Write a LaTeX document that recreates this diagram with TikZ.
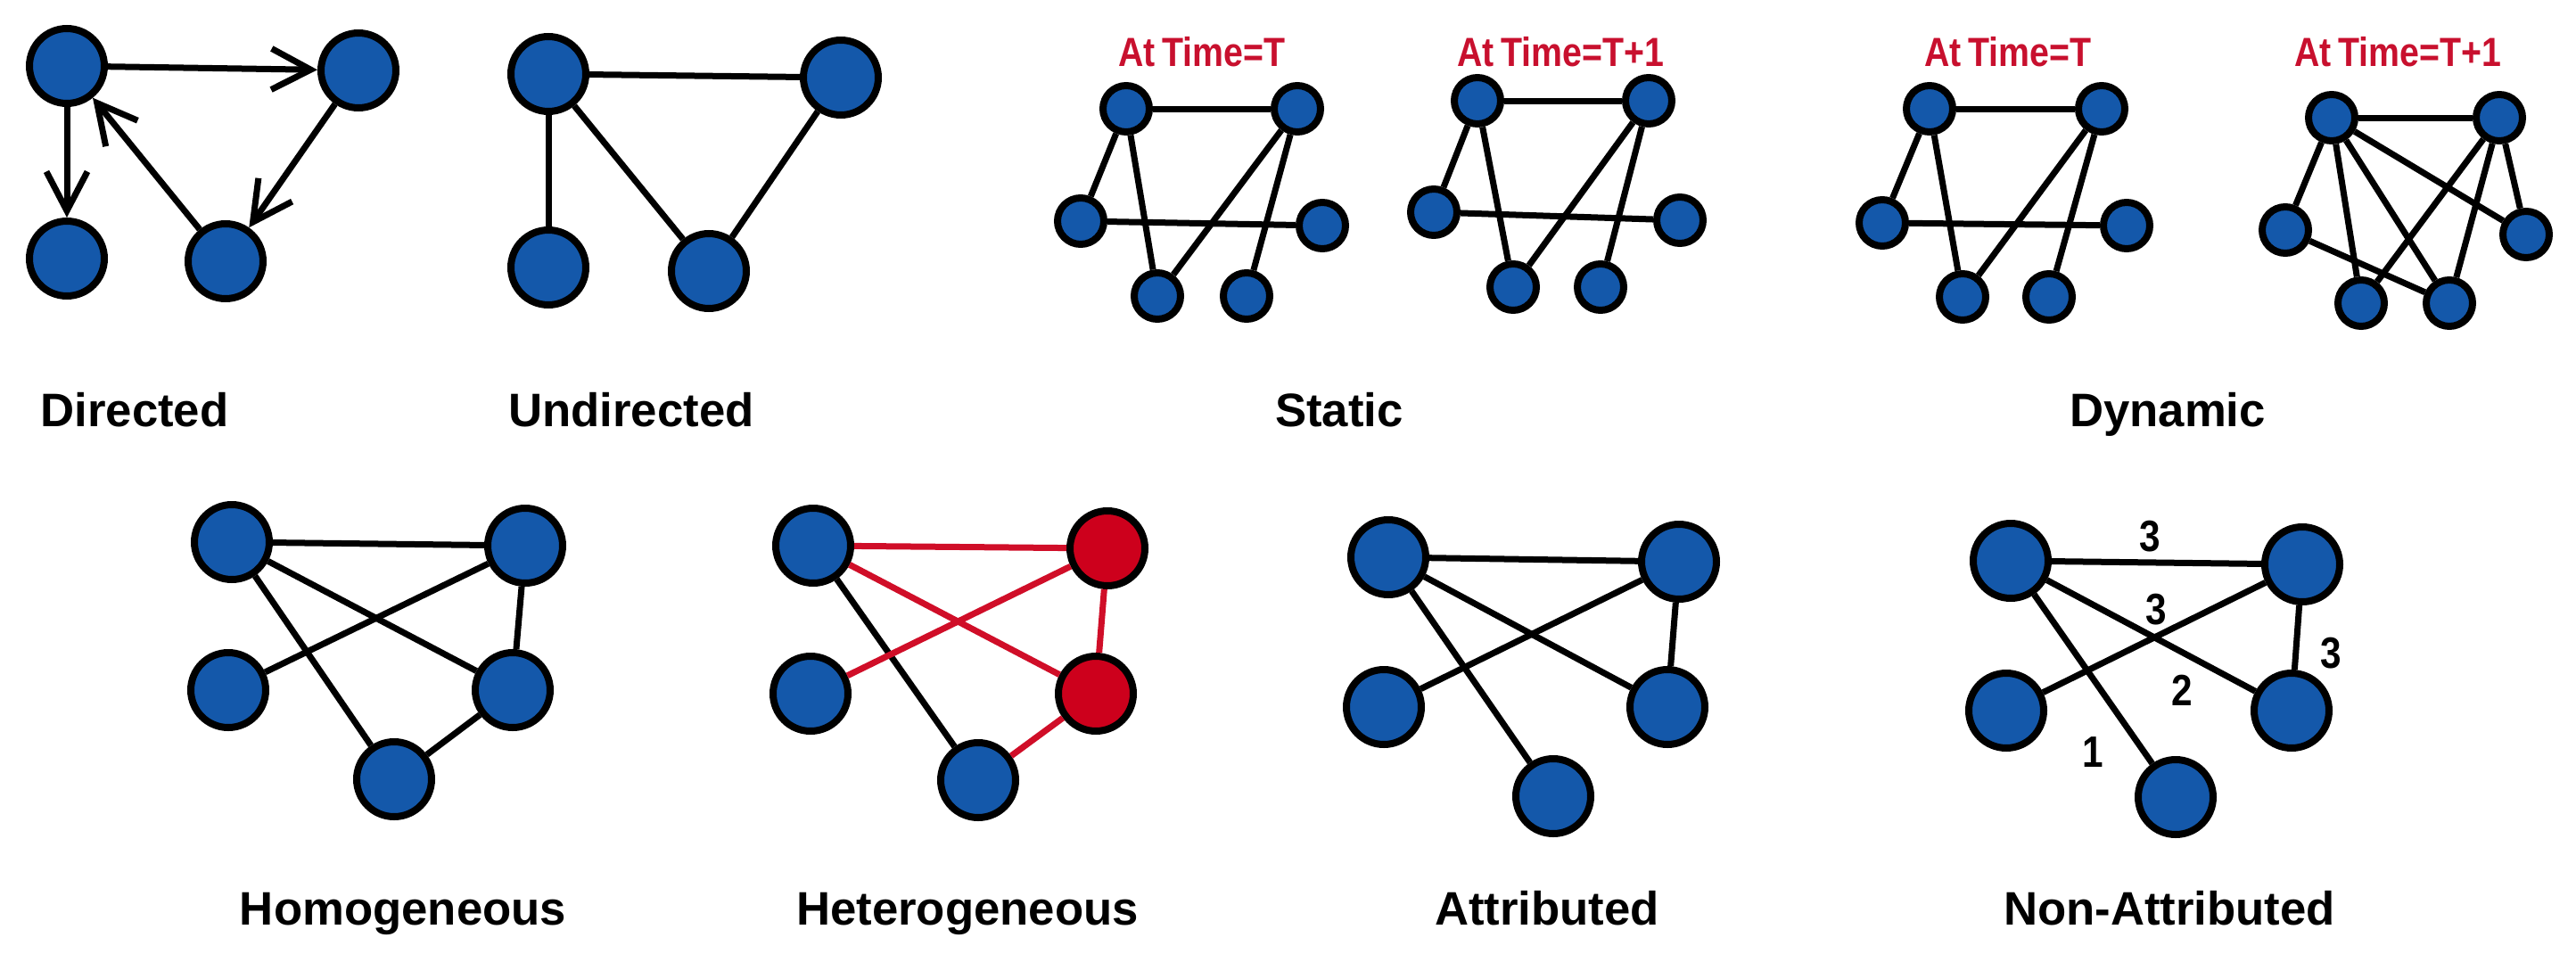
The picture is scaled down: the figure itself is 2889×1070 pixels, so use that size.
\documentclass[tikz,border=0pt]{standalone}
\usepackage{fontspec}
\setmainfont{Liberation Sans}
\newfontfamily\narrowsans[FakeStretch=0.86]{Liberation Sans}
\usepackage{xcolor}
\usetikzlibrary{arrows.meta}
\definecolor{nodeblue}{RGB}{20,88,170}
\definecolor{nodered}{RGB}{205,0,28}
\definecolor{linkred}{RGB}{208,14,40}
\definecolor{timered}{RGB}{200,16,46}
\def\bignode{8.4mm}
\def\smallnode{5.2mm}

\begin{document}
\begin{tikzpicture}[x=0.1mm, y=-0.1mm,
		vtx/.style={circle, draw=black, line width=0.8mm, fill=nodeblue, minimum size=\bignode, inner sep=0pt},
		svtx/.style={vtx, minimum size=\smallnode},
		rvtx/.style={vtx, fill=nodered},
		link/.style={line width=0.7mm},
		rlink/.style={link, draw=linkred},
		arr/.style={link, -{Straight Barb[length=4.4mm, width=4.6mm]}},
		title/.style={anchor=base, font=\fontsize{15}{18}\selectfont\bfseries},
		timelabel/.style={anchor=base, text=timered, font=\narrowsans\fontsize{13}{15}\selectfont\bfseries},
		weight/.style={font=\narrowsans\fontsize{14}{16}\selectfont\bfseries}]
	\useasboundingbox (0,0) rectangle (2889,1070);

	% directed
	\node[vtx] (d1) at (75,74) {};
	\node[vtx] (d2) at (402,79) {};
	\node[vtx] (d3) at (75,290) {};
	\node[vtx] (d4) at (253,293) {};
	\draw[arr] (d1) -- (d2);
	\draw[arr] (d1) -- (d3);
	\draw[arr] (d4) -- (d1);
	\draw[arr] (d2) -- (d4);
	\node[title] (dirlbl) at (151,478) {Directed};

	% undirected
	\node[vtx] (u1) at (615,83) {};
	\node[vtx] (u2) at (943,87) {};
	\node[vtx] (u3) at (615,300) {};
	\node[vtx] (u4) at (795,304) {};
	\draw[link] (u1) -- (u2);
	\draw[link] (u1) -- (u3);
	\draw[link] (u1) -- (u4);
	\draw[link] (u2) -- (u4);
	\node[title] (undirlbl) at (708,478) {Undirected};

	% static
	\node[timelabel] (sta) at (1348,75) {At\,Time=T};
	\node[svtx] (sa1) at (1263,122) {};
	\node[svtx] (sa2) at (1455,122) {};
	\node[svtx] (sa3) at (1212,248) {};
	\node[svtx] (sa4) at (1483,253) {};
	\node[svtx] (sa5) at (1298,332) {};
	\node[svtx] (sa6) at (1398,332) {};
	\draw[link] (sa1) -- (sa2);
	\draw[link] (sa1) -- (sa3);
	\draw[link] (sa1) -- (sa5);
	\draw[link] (sa2) -- (sa5);
	\draw[link] (sa2) -- (sa6);
	\draw[link] (sa3) -- (sa4);

	\node[timelabel] (stb) at (1750,75) {At\,Time=T+1};
	\node[svtx] (sb1) at (1657,113) {};
	\node[svtx] (sb2) at (1849,113) {};
	\node[svtx] (sb3) at (1608,238) {};
	\node[svtx] (sb4) at (1884,247) {};
	\node[svtx] (sb5) at (1697,322) {};
	\node[svtx] (sb6) at (1795,322) {};
	\draw[link] (sb1) -- (sb2);
	\draw[link] (sb1) -- (sb3);
	\draw[link] (sb1) -- (sb5);
	\draw[link] (sb2) -- (sb5);
	\draw[link] (sb2) -- (sb6);
	\draw[link] (sb3) -- (sb4);
	\node[title] (statlbl) at (1502,478) {Static};

	% dynamic
	\node[timelabel] (dta) at (2252,75) {At\,Time=T};
	\node[svtx] (da1) at (2164,122) {};
	\node[svtx] (da2) at (2357,122) {};
	\node[svtx] (da3) at (2111,250) {};
	\node[svtx] (da4) at (2385,253) {};
	\node[svtx] (da5) at (2201,333) {};
	\node[svtx] (da6) at (2298,333) {};
	\draw[link] (da1) -- (da2);
	\draw[link] (da1) -- (da3);
	\draw[link] (da1) -- (da5);
	\draw[link] (da2) -- (da5);
	\draw[link] (da2) -- (da6);
	\draw[link] (da3) -- (da4);

	\node[timelabel] (dtb) at (2689,75) {At\,Time=T+1};
	\node[svtx] (db1) at (2615,132) {};
	\node[svtx] (db2) at (2803,132) {};
	\node[svtx] (db3) at (2563,258) {};
	\node[svtx] (db4) at (2833,263) {};
	\node[svtx] (db5) at (2648,340) {};
	\node[svtx] (db6) at (2747,340) {};
	\draw[link] (db1) -- (db2);
	\draw[link] (db1) -- (db3);
	\draw[link] (db1) -- (db5);
	\draw[link] (db1) -- (db6);
	\draw[link] (db1) -- (db4);
	\draw[link] (db2) -- (db5);
	\draw[link] (db2) -- (db6);
	\draw[link] (db2) -- (db4);
	\draw[link] (db3) -- (db6);
	\node[title] (dynlbl) at (2431,478) {Dynamic};

	% homogeneous
	\node[vtx] (ho1) at (260,608) {};
	\node[vtx] (ho2) at (589,612) {};
	\node[vtx] (ho3) at (256,774) {};
	\node[vtx] (ho4) at (575,774) {};
	\node[vtx] (ho5) at (442,874) {};
	\draw[link] (ho1) -- (ho2);
	\draw[link] (ho1) -- (ho4);
	\draw[link] (ho1) -- (ho5);
	\draw[link] (ho2) -- (ho3);
	\draw[link] (ho2) -- (ho4);
	\draw[link] (ho4) -- (ho5);
	\node[title] (homlbl) at (452,1037) {Homogeneous};

	% heterogeneous
	\node[vtx] (he1) at (912,612) {};
	\node[rvtx] (he2) at (1242,615) {};
	\node[vtx] (he3) at (909,778) {};
	\node[rvtx] (he4) at (1229,778) {};
	\node[vtx] (he5) at (1097,875) {};
	\draw[rlink] (he1) -- (he2);
	\draw[rlink] (he1) -- (he4);
	\draw[link] (he1) -- (he5);
	\draw[rlink] (he2) -- (he3);
	\draw[rlink] (he2) -- (he4);
	\draw[rlink] (he4) -- (he5);
	\node[title] (hetlbl) at (1085,1037) {Heterogeneous};

	% attributed
	\node[vtx] (at1) at (1557,625) {};
	\node[vtx] (at2) at (1883,630) {};
	\node[vtx] (at3) at (1552,793) {};
	\node[vtx] (at4) at (1870,793) {};
	\node[vtx] (at5) at (1742,893) {};
	\draw[link] (at1) -- (at2);
	\draw[link] (at1) -- (at4);
	\draw[link] (at1) -- (at5);
	\draw[link] (at2) -- (at3);
	\draw[link] (at2) -- (at4);
	\node[title] (attlbl) at (1735,1037) {Attributed};

	% non-attributed
	\node[vtx] (na1) at (2255,629) {};
	\node[vtx] (na2) at (2582,633) {};
	\node[vtx] (na3) at (2250,797) {};
	\node[vtx] (na4) at (2570,797) {};
	\node[vtx] (na5) at (2440,894) {};
	\draw[link] (na1) -- (na2);
	\draw[link] (na1) -- (na4);
	\draw[link] (na1) -- (na5);
	\draw[link] (na2) -- (na3);
	\draw[link] (na2) -- (na4);
	\node[weight] (w12) at (2411,602) {3};
	\node[weight] (w14) at (2418,684) {3};
	\node[weight] (w23) at (2447,774) {2};
	\node[weight] (w24) at (2614,733) {3};
	\node[weight] (w15) at (2347,844) {1};
	\node[title] (natlbl) at (2433,1037) {Non-Attributed};
\end{tikzpicture}
\end{document}
